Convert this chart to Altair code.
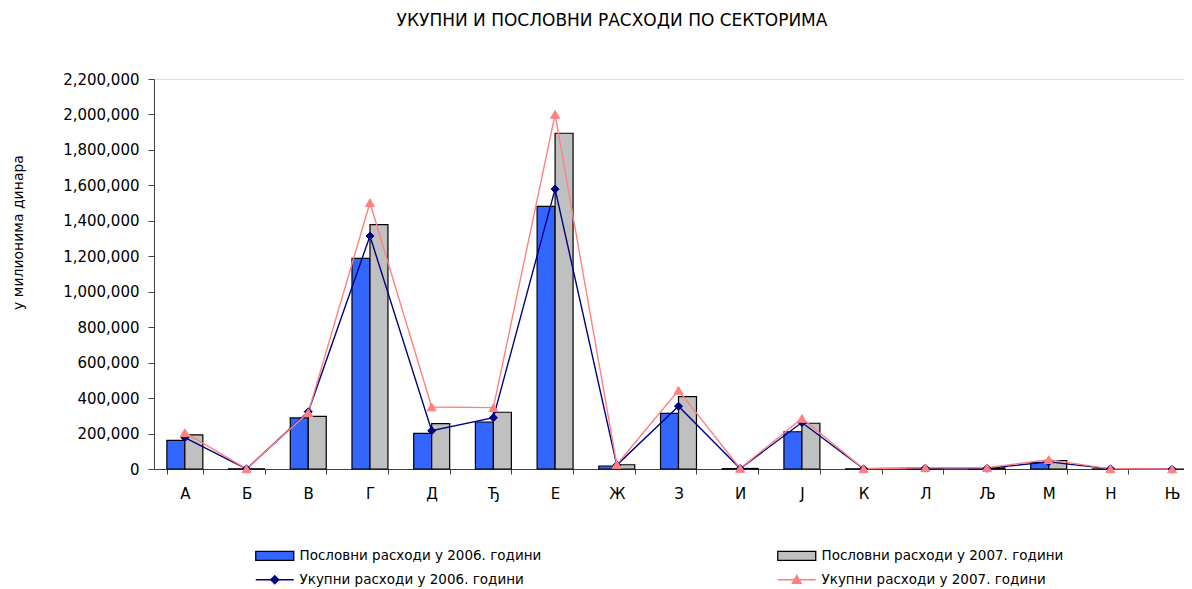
import altair as alt
import pandas as pd

categories = ["А", "Б", "В", "Г", "Д", "Ђ", "Е", "Ж", "З", "И", "Ј", "К", "Л", "Љ", "М", "Н", "Њ"]
business_2006 = [162000, 1000, 288000, 1188000, 201000, 265000, 1481000, 17000, 314000, 2000, 210000, 1000, 5000, 2000, 37000, 500, 0]
business_2007 = [193000, 1000, 297000, 1378000, 256000, 320000, 1894000, 24000, 408000, 3000, 258000, 1000, 6000, 6000, 48000, 500, 0]
total_2006 = [177000, 1000, 323000, 1314000, 216000, 289000, 1579000, 22000, 354000, 3000, 262000, 1000, 5000, 4000, 40000, 1000, 0]
total_2007 = [205000, 1000, 318000, 1502000, 350000, 346000, 2000000, 25000, 444000, 3000, 285000, 1000, 7000, 7000, 53000, 1000, 0]

series_names = [
    "Пословни расходи у 2006. години",
    "Пословни расходи у 2007. години",
    "Укупни расходи у 2006. години",
    "Укупни расходи у 2007. години",
]
fill_colors = ["#3366FF", "#C0C0C0", "#000080", "#FF8080"]
stroke_colors = ["#000000", "#000000", "#000080", "#FF8080"]
legend_shapes = [
    "M-3.8,-0.9H3.8V0.9H-3.8Z",
    "M-3.8,-0.9H3.8V0.9H-3.8Z",
    "M-3.8,0H3.8M0,-0.8L0.8,0L0,0.8L-0.8,0Z",
    "M-3.8,0H3.8M0,-0.9L0.9,0.7L-0.9,0.7Z",
]
# legend entries are laid out column by column: bars 2006, lines 2006 | bars 2007, lines 2007
legend_order = [0, 2, 1, 3]
y_ticks = list(range(0, 2200001, 200000))

bar_rows = []
for c, a, b in zip(categories, business_2006, business_2007):
    bar_rows.append({"cat": c, "series": series_names[0], "value": a})
    bar_rows.append({"cat": c, "series": series_names[1], "value": b})
bar_df = pd.DataFrame(bar_rows)

line_rows = []
for c, a, b in zip(categories, total_2006, total_2007):
    line_rows.append({"cat": c, "series": series_names[2], "value": a})
    line_rows.append({"cat": c, "series": series_names[3], "value": b})
line_df = pd.DataFrame(line_rows)

legend_df = pd.DataFrame({"cat": [categories[0]] * 4, "series": series_names, "value": [0] * 4})

FONT = "DejaVu Sans"


def fill_scale():
    return alt.Scale(domain=series_names, range=fill_colors)


def stroke_scale():
    return alt.Scale(domain=series_names, range=stroke_colors)


lg_domain = [series_names[i] for i in legend_order]
lg_fill = [fill_colors[i] for i in legend_order]
lg_stroke = [stroke_colors[i] for i in legend_order]
lg_shape = [legend_shapes[i] for i in legend_order]

x_enc = alt.X(
    "cat:N",
    sort=categories,
    scale=alt.Scale(domain=categories, range=[0, 1049], paddingInner=0.417, paddingOuter=0.2085),
    axis=alt.Axis(
        title=None, labelAngle=0, tickBand="extent", tickSize=5, labelPadding=12, grid=False,
        labelFont=FONT, labelFontSize=15, labelColor="#000000",
        domainColor="#404040", tickColor="#404040",
    ),
)
y_enc = alt.Y(
    "value:Q",
    scale=alt.Scale(domain=[0, 2200000], nice=False),
    axis=alt.Axis(
        values=y_ticks, format=",.0f", grid=False, tickSize=6, labelPadding=9,
        labelFont=FONT, labelFontSize=15, labelColor="#000000",
        domainColor="#404040", tickColor="#404040",
        title="у милионима динара", titleFont=FONT, titleFontSize=14, titleFontWeight="normal",
        titleColor="#000000", titleAngle=270, titleX=-136, titleY=153, titleBaseline="middle",
        titleAlign="center",
    ),
)

legend = alt.Legend(
    title=None, orient="none", legendX=114, legendY=470, columns=2, columnPadding=233,
    rowPadding=9, labelFont=FONT, labelFontSize=13.5, labelColor="#000000", labelLimit=400,
    symbolSize=100, symbolStrokeWidth=1.3, symbolOpacity=1, labelOffset=18,
)

bars = alt.Chart(bar_df).mark_bar(strokeWidth=1.2).encode(
    x=x_enc,
    xOffset=alt.XOffset("series:N", sort=series_names[:2], scale=alt.Scale(paddingInner=0, paddingOuter=0)),
    y=y_enc,
    fill=alt.Fill("series:N", scale=fill_scale(), legend=None),
    stroke=alt.Stroke("series:N", scale=stroke_scale(), legend=None),
)

lines = alt.Chart(line_df).mark_line(strokeWidth=1.4).encode(
    x=x_enc, y=y_enc,
    stroke=alt.Stroke("series:N", scale=stroke_scale(), legend=None),
)

diamonds = alt.Chart(line_df).transform_filter(
    alt.datum.series == series_names[2]
).mark_point(shape="diamond", filled=True, size=64, opacity=1, strokeWidth=1).encode(
    x=x_enc, y=y_enc,
    fill=alt.Fill("series:N", scale=fill_scale(), legend=None),
    stroke=alt.Stroke("series:N", scale=stroke_scale(), legend=None),
)

triangles = alt.Chart(line_df).transform_filter(
    alt.datum.series == series_names[3]
).mark_point(shape="triangle-up", filled=True, size=80, opacity=1, strokeWidth=1).encode(
    x=x_enc, y=y_enc,
    fill=alt.Fill("series:N", scale=fill_scale(), legend=None),
    stroke=alt.Stroke("series:N", scale=stroke_scale(), legend=None),
)

legend_layer = alt.Chart(legend_df).mark_point(filled=True, opacity=0).encode(
    x=x_enc, y=y_enc,
    fill=alt.Fill("series:N", scale=alt.Scale(domain=lg_domain, range=lg_fill), legend=legend),
    stroke=alt.Stroke("series:N", scale=alt.Scale(domain=lg_domain, range=lg_stroke), legend=legend),
    shape=alt.Shape("series:N", scale=alt.Scale(domain=lg_domain, range=lg_shape), legend=legend),
)

chart = alt.layer(legend_layer, bars, lines, diamonds, triangles).resolve_scale(
    fill="independent", stroke="independent", shape="independent"
).resolve_legend(
    fill="independent", stroke="independent", shape="independent"
).properties(
    width=1030,
    height=390,
    title=alt.Title(
        "УКУПНИ И ПОСЛОВНИ РАСХОДИ ПО СЕКТОРИМА", font=FONT, fontSize=17,
        fontWeight="normal", color="#000000", anchor="middle", dx=-57, dy=-38,
    ),
    autosize=alt.AutoSizeParams(type="none"),
    padding={"left": 146, "top": 71, "right": 0, "bottom": 120},
).configure_view(
    stroke="transparent", strokeWidth=0
).configure_axis(
    grid=False, gridOpacity=0
).configure(background="#FFFFFF")

chart.save("out.html", embed_options={"renderer": "svg", "actions": False})
